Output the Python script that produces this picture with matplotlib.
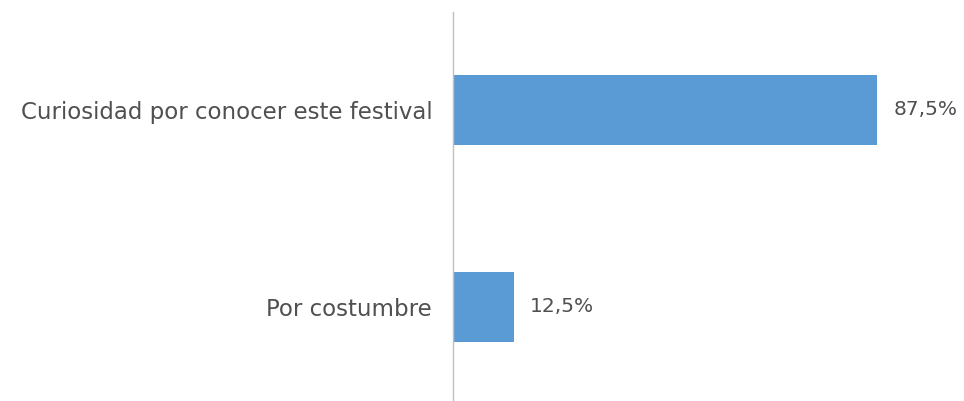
import matplotlib
matplotlib.use("Agg")
import matplotlib.pyplot as plt

categories = ["Por costumbre", "Curiosidad por conocer este festival"]
values = [12.5, 87.5]
labels = ["12,5%", "87,5%"]

bar_color = "#5B9BD5"
text_color = "#505050"

plt.rcParams['font.family'] = ['DejaVu Sans']

fig = plt.figure(figsize=(9.64, 4.01), dpi=100)
W, H = 964, 401
# axes placed in pixel terms of the reference
ax = fig.add_axes([453 / W, 1 - 400 / H, 484.6 / W, 388 / H])

ypos = list(range(len(categories)))
ax.barh(ypos, values, height=0.355, color=bar_color)

ax.set_xlim(0, 100)
ax.set_ylim(-0.472, 1.497)

for y, v, lab in zip(ypos, values, labels):
    ax.text(v + 3.4, y, lab, va="center", ha="left", fontsize=14.5, color=text_color)

ax.set_yticks(ypos)
ax.set_yticklabels(categories, fontsize=16.5, color=text_color)
ax.tick_params(axis="y", length=0, pad=15)
ax.set_xticks([])

for s in ["top", "right", "bottom"]:
    ax.spines[s].set_visible(False)
ax.spines["left"].set_color("#BFBFBF")
ax.spines["left"].set_linewidth(1)

fig.savefig("out.png", dpi=100)
